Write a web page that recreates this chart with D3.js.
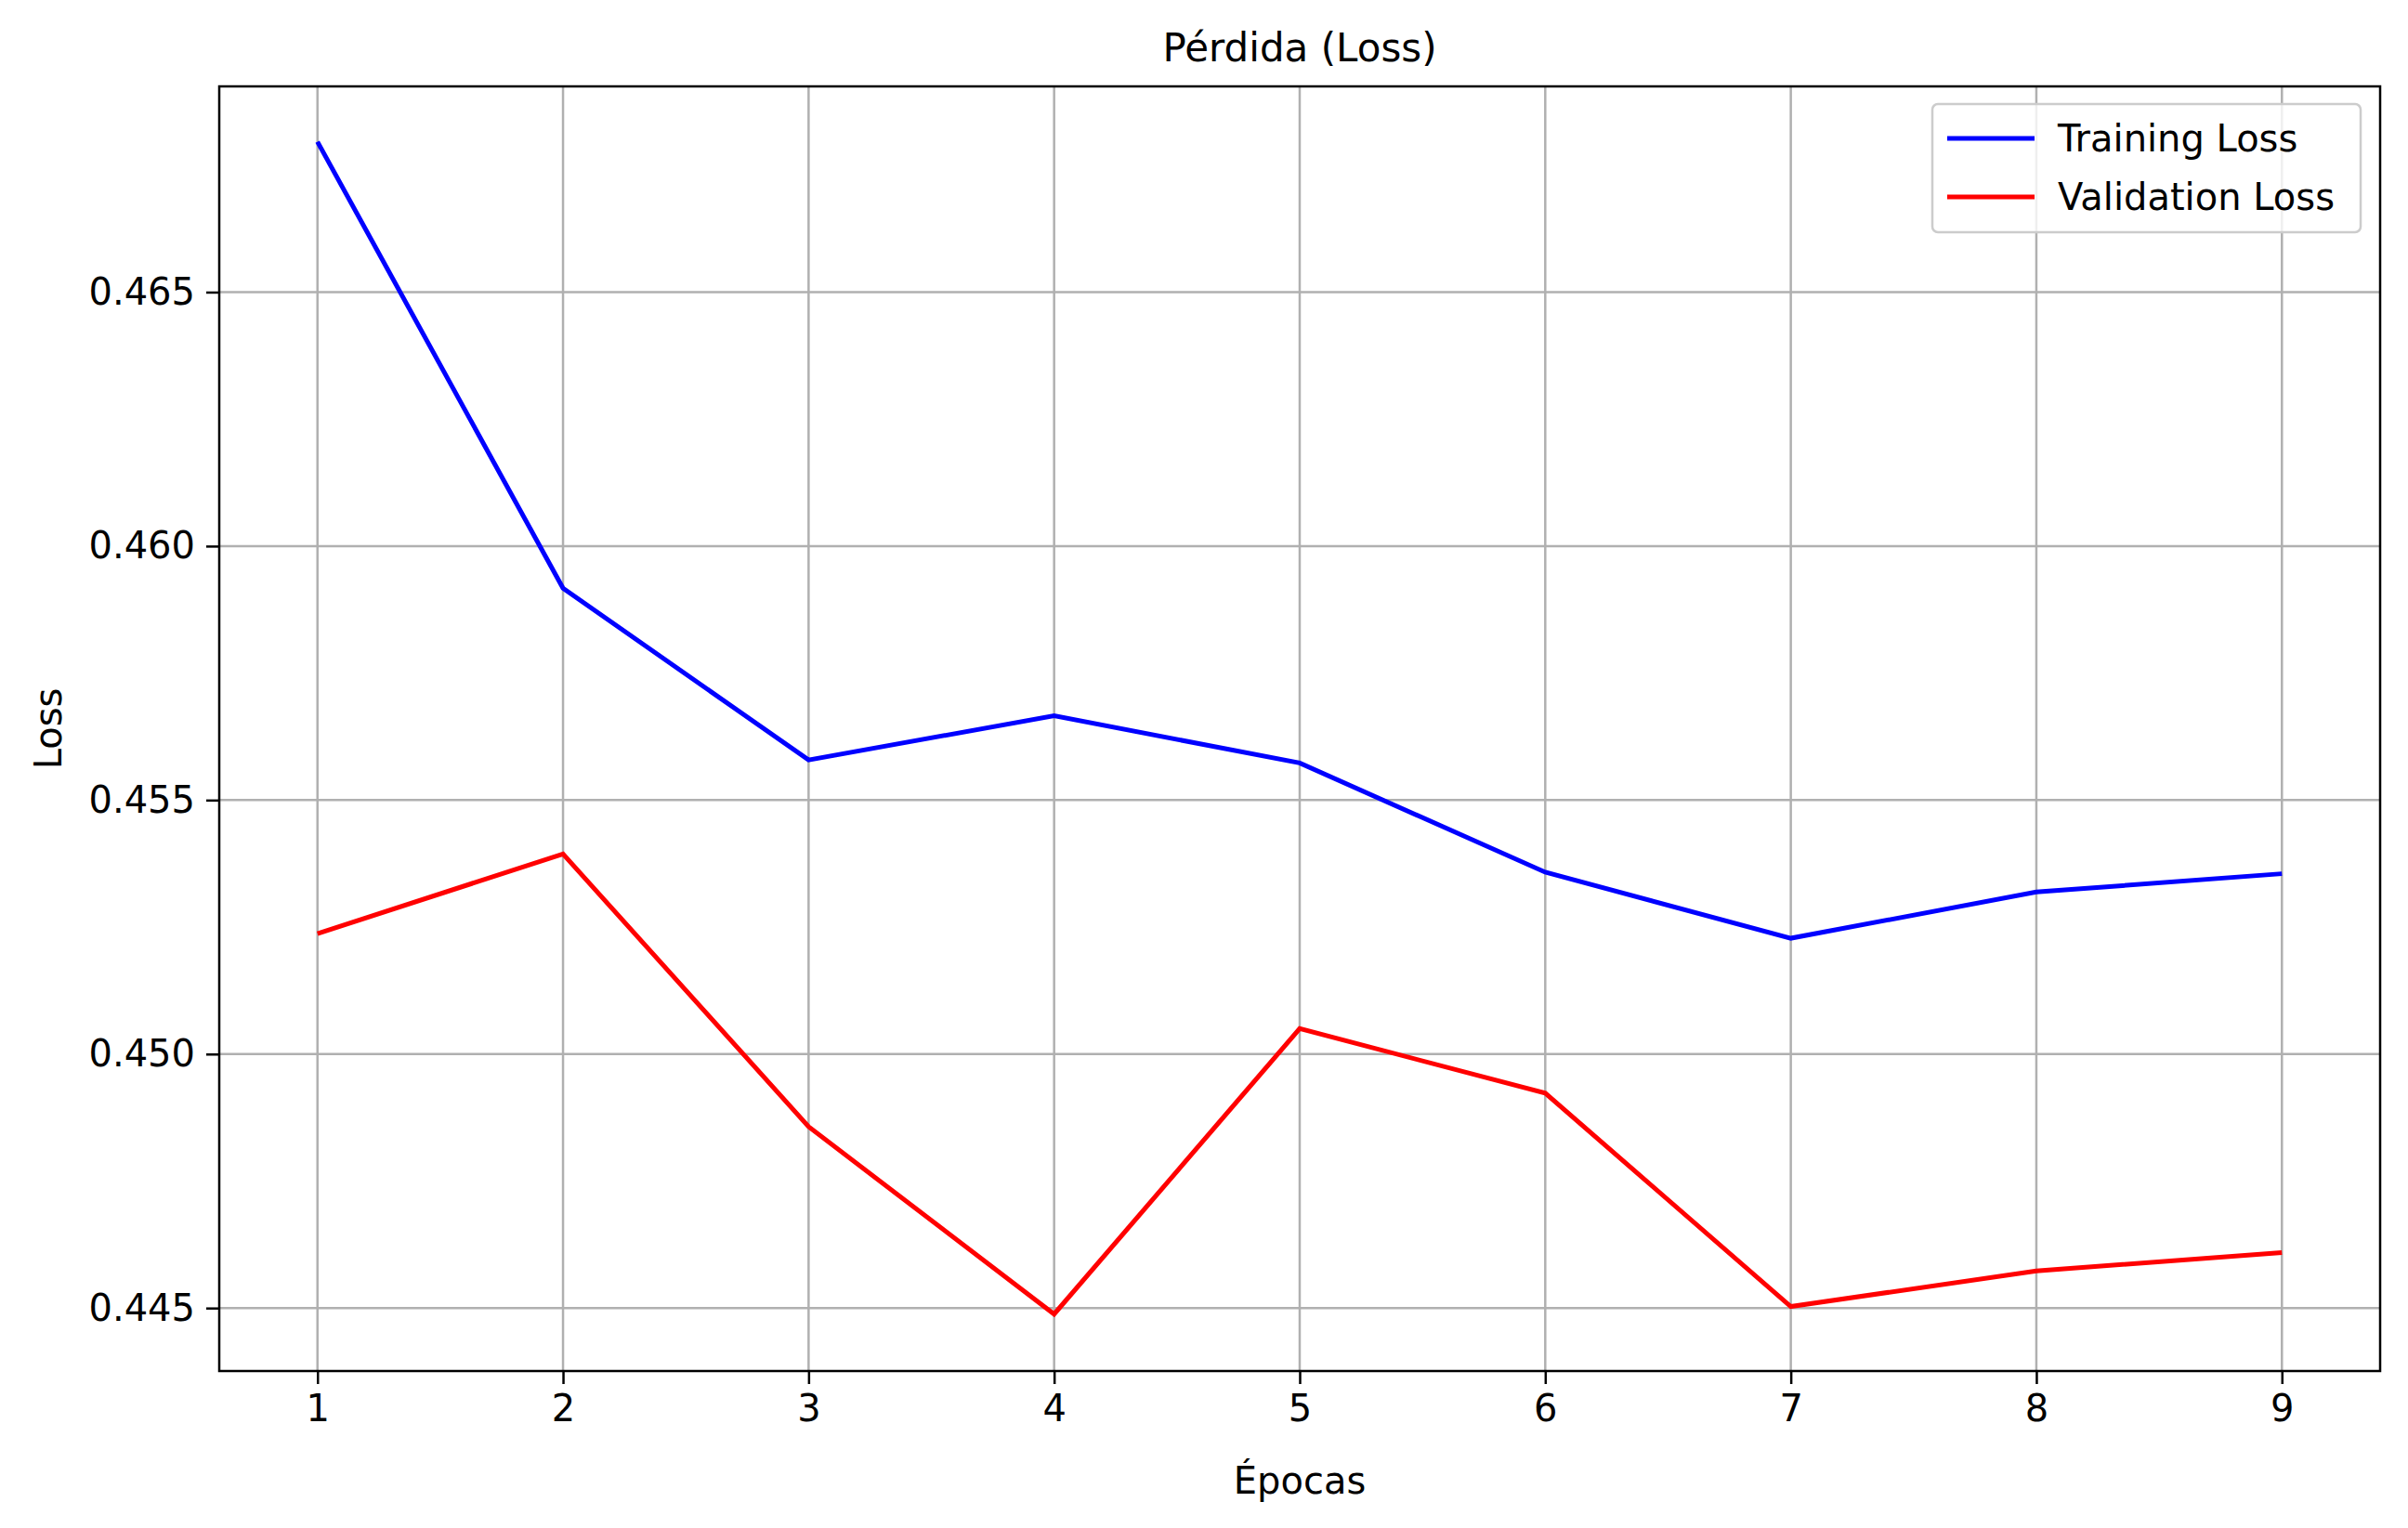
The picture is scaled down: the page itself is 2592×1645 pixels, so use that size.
<!DOCTYPE html>
<meta charset="utf-8">
<body style="margin:0;background:#fff">
<script src="https://cdn.jsdelivr.net/npm/d3@7"></script>
<svg id="chart" width="2592" height="1645"></svg>
<script>
var epochs = [1, 2, 3, 4, 5, 6, 7, 8, 9];
var trainLoss = [0.46796, 0.45917, 0.45579, 0.45666, 0.45573, 0.45358, 0.45228, 0.45319, 0.45355];
var valLoss = [0.45237, 0.45394, 0.44857, 0.44488, 0.4505, 0.44923, 0.44503, 0.44573, 0.44609];
var yTicks = [0.445, 0.450, 0.455, 0.460, 0.465];

var svg = d3.select("#chart");
var m = {left: 236, right: 2562, top: 93, bottom: 1476};
var font = "DejaVu Sans";
var fs = 40;

var x = d3.scaleLinear().domain([0.6, 9.4]).range([m.left, m.right]);
var y = d3.scaleLinear().domain([0.44376, 0.46905]).range([m.bottom, m.top]);

// grid
svg.append("g").selectAll("line").data(epochs).join("line")
    .attr("x1", d => x(d)).attr("x2", d => x(d))
    .attr("y1", m.top).attr("y2", m.bottom)
    .attr("stroke", "#b0b0b0").attr("stroke-width", 2.5);
svg.append("g").selectAll("line").data(yTicks).join("line")
    .attr("y1", d => y(d)).attr("y2", d => y(d))
    .attr("x1", m.left).attr("x2", m.right)
    .attr("stroke", "#b0b0b0").attr("stroke-width", 2.5);

var xAxis = svg.append("g").attr("transform", "translate(0," + m.bottom + ")")
    .call(d3.axisBottom(x).tickValues(epochs).tickFormat(d3.format("d")).tickSize(14).tickPadding(12));
var yAxis = svg.append("g").attr("transform", "translate(" + m.left + ",0)")
    .call(d3.axisLeft(y).tickValues(yTicks).tickFormat(d3.format(".3f")).tickSize(14).tickPadding(12));
[xAxis, yAxis].forEach(function (a) {
    a.select(".domain").remove();
    a.selectAll("line").attr("stroke", "#000").attr("stroke-width", 2.5);
    a.selectAll("text").attr("font-family", font).attr("font-size", fs).attr("fill", "#000");
});

var line = d3.line().x((d, i) => x(epochs[i])).y(d => y(d));
svg.append("path").datum(trainLoss).attr("d", line).attr("fill", "none").attr("stroke", "#0000ff").attr("stroke-width", 5);
svg.append("path").datum(valLoss).attr("d", line).attr("fill", "none").attr("stroke", "#ff0000").attr("stroke-width", 5);

svg.append("rect").attr("x", m.left).attr("y", m.top)
    .attr("width", m.right - m.left).attr("height", m.bottom - m.top)
    .attr("fill", "none").attr("stroke", "#000").attr("stroke-width", 2.5);

svg.append("text").attr("x", (m.left + m.right) / 2).attr("y", 66).attr("text-anchor", "middle")
    .attr("font-family", font).attr("font-size", 42).text("Pérdida (Loss)");
svg.append("text").attr("x", (m.left + m.right) / 2).attr("y", 1608).attr("text-anchor", "middle")
    .attr("font-family", font).attr("font-size", fs).text("Épocas");
svg.append("text").attr("transform", "translate(66," + (m.top + m.bottom) / 2 + ") rotate(-90)")
    .attr("text-anchor", "middle").attr("font-family", font).attr("font-size", fs).text("Loss");

// legend
var lg = svg.append("g").attr("transform", "translate(2080,112)");
lg.append("rect").attr("width", 461).attr("height", 138).attr("rx", 6)
    .attr("fill", "#fff").attr("fill-opacity", 0.8).attr("stroke", "#ccc").attr("stroke-width", 2.5);
var items = [["Training Loss", "#0000ff"], ["Validation Loss", "#ff0000"]];
items.forEach(function (it, i) {
    var yy = 37 + i * 63;
    lg.append("line").attr("x1", 16).attr("x2", 110).attr("y1", yy).attr("y2", yy)
        .attr("stroke", it[1]).attr("stroke-width", 5);
    lg.append("text").attr("x", 135).attr("y", yy + 14).attr("font-family", font)
        .attr("font-size", fs).text(it[0]);
});
</script>
</body>
